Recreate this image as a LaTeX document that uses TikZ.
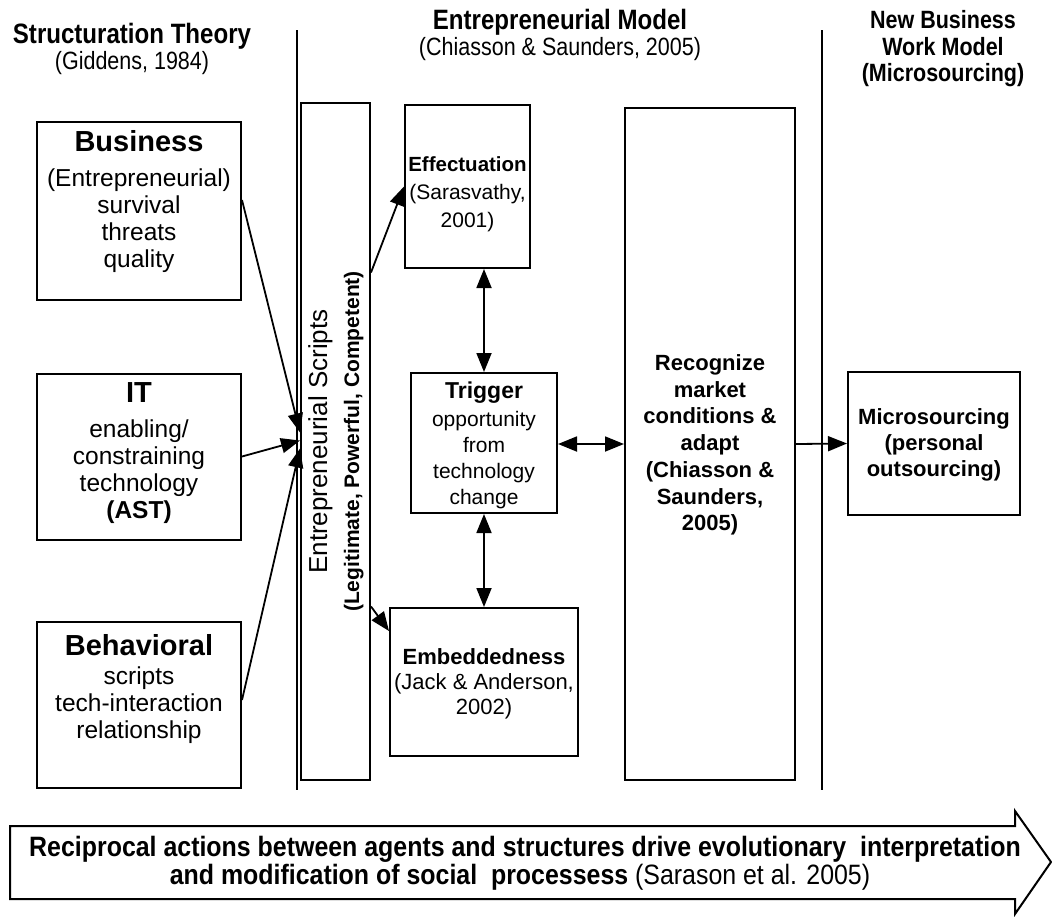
\documentclass[tikz,border=0pt]{standalone}
\usepackage{fontspec}
\setmainfont{Liberation Sans}
\newfontfamily\narrowfont[FakeStretch=0.86]{Liberation Sans}
\newfontfamily\narrowfontb[FakeStretch=0.89]{Liberation Sans}
\usetikzlibrary{arrows.meta,calc}
\tikzset{
  box/.style={draw, line width=2pt, inner sep=0pt, rectangle},
  txt/.style={align=center, inner sep=0pt},
  divider/.style={line width=2pt},
  tip/.tip={Triangle[length=19pt,width=15pt]},
  arr/.style={line width=1.8pt, -tip},
  darr/.style={line width=1.8pt, tip-tip},
  lefttxt/.style={txt, font=\fontsize{24.5}{27}\selectfont},
  regb/.style={font=\fontsize{22}{26.7}\selectfont\bfseries},
  head/.style={align=center, inner sep=0pt},
}
\newcommand{\bigb}{\fontsize{29}{30}\selectfont\bfseries}
\begin{document}
\begin{tikzpicture}[x=1pt,y=-1pt]
\useasboundingbox[fill=white] (0,0) rectangle (1052,916);

% headers
\node[head] (h1a) at (132,36) {\narrowfont\fontsize{28}{30}\selectfont\bfseries Structuration Theory};
\node[head] (h1b) at (132,63) {\narrowfont\fontsize{25}{30}\selectfont (Giddens, 1984)};
\node[head] (h2a) at (560,22) {\narrowfont\fontsize{28}{30}\selectfont\bfseries Entrepreneurial Model};
\node[head] (h2b) at (560,49) {\narrowfont\fontsize{25}{30}\selectfont (Chiasson \& Saunders, 2005)};
\node[head, font=\narrowfont\fontsize{25}{26.5}\selectfont\bfseries] (h3) at (943,49) {New Business\\Work Model\\(Microsourcing)};

% dividers
\coordinate (d1t) at (297,30); \coordinate (d1b) at (297,790);
\coordinate (d2t) at (822,30); \coordinate (d2b) at (822,790);
\draw[divider] (d1t) -- (d1b);
\draw[divider] (d2t) -- (d2b);

% left boxes
\node[box, minimum width=204pt, minimum height=178pt] (bus) at (139,211) {};
\node[lefttxt] (bust) at (139,202) {{\bigb Business}\\[8pt] (Entrepreneurial)\\ survival\\ threats\\ quality};
\node[box, minimum width=204pt, minimum height=166pt] (it) at (139,456.5) {};
\node[lefttxt] (itt) at (139,453) {{\bigb IT}\\[8pt] enabling/\\ constraining\\ technology\\ \textbf{(AST)}};
\node[box, minimum width=204pt, minimum height=166pt] (beh) at (139,705) {};
\node[lefttxt] (beht) at (139,689) {{\bigb Behavioral}\\[2pt] scripts\\ tech-interaction\\ relationship};

% scripts box
\node[box, minimum width=69pt, minimum height=677pt] (scr) at (335.5,441.5) {};
\node[txt, rotate=90, font=\fontsize{26}{32}\selectfont] (scrt) at (336,441.5) {Entrepreneurial Scripts\\
  \fontsize{21}{22}\selectfont\bfseries (Legitimate, Powerful, Competent)};

% centre boxes
\node[box, minimum width=125pt, minimum height=163pt] (eff) at (467.5,186.5) {};
\node[txt, font=\fontsize{21}{28}\selectfont] (efft) at (467.5,194) {{\fontsize{20.5}{28}\selectfont\bfseries Effectuation}\\ (Sarasvathy,\\ 2001)};
\node[box, minimum width=146pt, minimum height=140pt] (trig) at (484,443) {};
\node[txt, font=\fontsize{21}{26}\selectfont] (trigt) at (484,445) {{\fontsize{23}{26}\selectfont\bfseries Trigger}\\[2pt] opportunity\\ from\\ technology\\ change};
\node[box, minimum width=188pt, minimum height=148pt] (emb) at (484,682) {};
\node[txt, font=\fontsize{22}{25}\selectfont] (embt) at (484,684) {{\bfseries Embeddedness}\\ (Jack \& Anderson,\\ 2002)};

% recognize box
\node[box, minimum width=170pt, minimum height=672pt] (rec) at (710,444) {};
\node[txt, regb] (rect) at (710,445) {Recognize\\ market\\ conditions \&\\ adapt\\ (Chiasson \&\\ Saunders,\\ 2005)};

% microsourcing
\node[box, minimum width=172pt, minimum height=143pt] (mic) at (934,443.5) {};
\node[txt, font=\fontsize{22}{26}\selectfont\bfseries] (mict) at (934,445) {Microsourcing\\ (personal\\ outsourcing)};

% arrows
\draw[arr] ([yshift=11pt]bus.east) -- ([yshift=9pt]scr.west);
\draw[arr] (it.east) -- ([yshift=1pt]scr.west);
\draw[arr] ([yshift=5pt]beh.east) -- ([yshift=-7pt]scr.west);
\draw[arr] ([yshift=169pt]scr.east) -- (eff.west);
\draw[arr] ([yshift=-165pt]scr.east) -- ([yshift=51pt]emb.west);
\draw[darr] (trig.north) -- (trig.north |- eff.south);
\draw[darr] (trig.south) -- (trig.south |- emb.north);
\draw[darr] (rec.west -| trig.east) -- (rec.west);
\draw[arr] (rec.east) -- (mic.west);

% bottom arrow
\coordinate (a1) at (10,826);
\coordinate (a2) at (1015,826);
\coordinate (a3) at (1015,811);
\coordinate (a4) at (1051,862);
\coordinate (a5) at (1015,914);
\coordinate (a6) at (1015,899);
\coordinate (a7) at (10,899);
\draw[line width=2pt, line join=miter] (a1) -- (a2) -- (a3) -- (a4) -- (a5) -- (a6) -- (a7) -- cycle;
\node[txt] (bot1) at (525,849) {\narrowfontb\fontsize{28}{30}\selectfont\bfseries Reciprocal actions between agents and structures drive evolutionary\ \ interpretation};
\node[txt] (bot2) at (520,877) {\narrowfontb\fontsize{28}{30}\selectfont{\bfseries and modification of social\ \ processess} (Sarason et al. 2005)};
\end{tikzpicture}
\end{document}
